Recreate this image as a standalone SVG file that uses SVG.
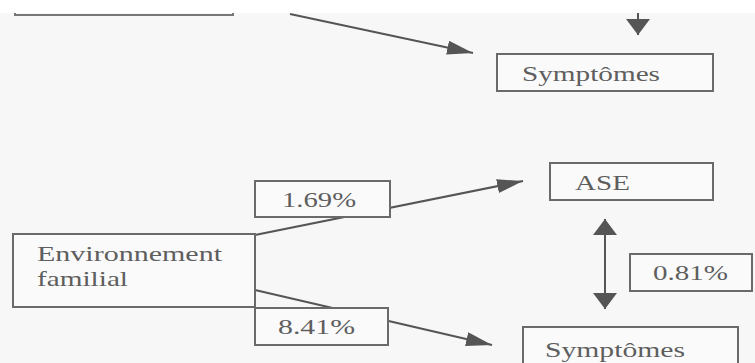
<svg xmlns="http://www.w3.org/2000/svg" width="755" height="363" viewBox="0 0 755 363">
<style>
.box{fill:#fafafa;stroke:#6a6a6a;stroke-width:2}
.ln{fill:none;stroke:#555;stroke-width:2}
.t{font-family:"Liberation Serif","Times New Roman",serif;font-size:21px;fill:#5e5e5e}
</style>
<defs>
<marker id="hd" markerUnits="userSpaceOnUse" markerWidth="28" markerHeight="16" refX="26" refY="7" orient="auto">
<path d="M0,0 L26,7 L0,14 Z" fill="#555"/>
</marker>
<marker id="hv" markerUnits="userSpaceOnUse" markerWidth="18" markerHeight="26" refX="16" refY="12" orient="auto-start-reverse">
<path d="M0,0 L16,12 L0,24 Z" fill="#555"/>
</marker>
</defs>
<rect width="755" height="363" fill="#f7f7f7"/>
<rect width="755" height="13" fill="#ffffff"/>
<g id="connectors">
<line class="ln" x1="290" y1="14" x2="473" y2="53" marker-end="url(#hd)"/>
<line class="ln" x1="638" y1="13" x2="638" y2="35" marker-end="url(#hv)"/>
<line class="ln" x1="255" y1="235" x2="523" y2="181" marker-end="url(#hd)"/>
<line class="ln" x1="255" y1="290" x2="492" y2="345" marker-end="url(#hd)"/>
<line class="ln" x1="605" y1="219" x2="605" y2="309" marker-start="url(#hv)" marker-end="url(#hv)"/>
</g>
<g id="top-box">
<polyline class="ln" points="15,13 15,15 233,15 233,13" style="stroke:#777"/>
</g>
<g id="symptomes-top">
<rect class="box" x="497" y="54" width="216" height="37"/>
<text class="t" x="522" y="81" textLength="138" lengthAdjust="spacingAndGlyphs">Symptômes</text>
</g>
<g id="environnement">
<rect class="box" x="13" y="234" width="242" height="73"/>
<text class="t" x="37" y="261" textLength="185" lengthAdjust="spacingAndGlyphs">Environnement</text>
<text class="t" x="37" y="286" textLength="91" lengthAdjust="spacingAndGlyphs">familial</text>
</g>
<g id="label-169">
<rect class="box" x="255" y="181" width="135" height="36"/>
<text class="t" x="282" y="207" textLength="74" lengthAdjust="spacingAndGlyphs">1.69%</text>
</g>
<g id="label-841">
<rect class="box" x="255" y="308" width="133" height="37"/>
<text class="t" x="278" y="334" textLength="77" lengthAdjust="spacingAndGlyphs">8.41%</text>
</g>
<g id="ase">
<rect class="box" x="550" y="163" width="163" height="37"/>
<text class="t" x="575" y="190" textLength="55" lengthAdjust="spacingAndGlyphs">ASE</text>
</g>
<g id="label-081">
<rect class="box" x="630" y="254" width="122" height="37"/>
<text class="t" x="653" y="280" textLength="75" lengthAdjust="spacingAndGlyphs">0.81%</text>
</g>
<g id="symptomes-bottom">
<rect class="box" x="523" y="327" width="215" height="45"/>
<text class="t" x="545" y="357" textLength="140" lengthAdjust="spacingAndGlyphs">Symptômes</text>
</g>
</svg>
